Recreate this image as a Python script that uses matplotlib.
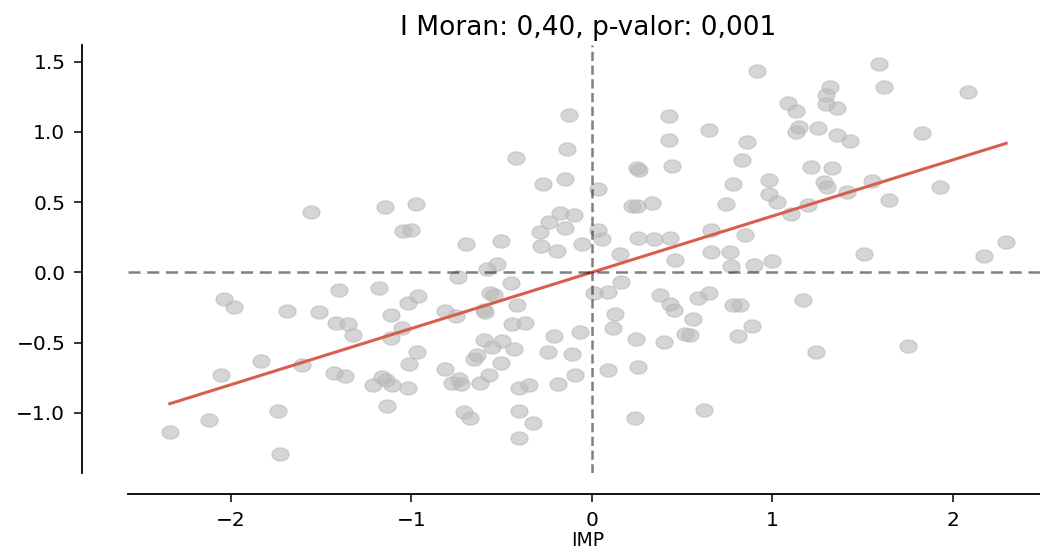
import numpy as np
import matplotlib
matplotlib.use("Agg")
import matplotlib.pyplot as plt
from matplotlib.path import Path

# standardized variable (IMP) and its spatial lag
imp = [-1.558, -0.127, -0.137, -0.419, -0.270, -0.146, -1.143, -0.973, -1.045, -1.001,
       -0.694, -0.502, -0.238, -0.176, -0.100, -0.146, -0.288, -0.279, -0.194, -0.054,
       -0.525, 0.035, 0.035, 0.057, 0.916, 0.427, 0.427, 0.652, 0.860, 0.833,
       0.445, 0.251, 0.260, 1.088, 1.132, 1.151, 1.132, 1.254, 1.322, 1.298,
       1.298, 1.359, 1.217, 1.331, 1.359, 1.433, 0.981, 0.783, 0.981, 1.027,
       1.285, 1.304, 1.199, 1.102, 0.746, 0.223, 0.251, 0.334, 0.257, 0.345,
       0.436, 0.663, 0.851, 0.155, 0.464, 0.663, 0.765, 0.774, 0.898, 0.999,
       1.594, 1.622, 2.083, 1.828, 1.553, 1.414, 1.649, 1.932, 2.297, 2.176,
       1.511, -1.402, -2.035, -1.983, -1.688, -1.512, -1.417, -1.352, -1.322, -1.830,
       -1.605, -2.057, -1.426, -1.368, -1.213, -1.736, -2.122, -2.338, -1.727, -1.180,
       -1.115, -1.018, -0.964, -1.051, -1.115, -0.968, -1.014, -1.162, -1.140, -1.106,
       -1.019, -1.134, -0.811, -0.750, -0.741, -0.580, -0.447, -0.561, -0.543, -0.598,
       -0.589, -0.412, -0.441, -0.371, -0.598, -0.552, -0.497, -0.432, -0.654, -0.635,
       -0.502, -0.814, -0.774, -0.737, -0.727, -0.617, -0.567, -0.709, -0.672, -0.404,
       -0.349, -0.401, -0.327, -0.401, -0.211, -0.242, -0.109, -0.063, -0.090, -0.187,
       0.011, 0.089, 0.164, 0.381, 0.436, 0.454, 0.587, 0.652, 0.781, 0.824,
       1.169, 0.127, 0.116, 0.245, 0.399, 0.560, 0.519, 0.547, 0.888, 0.812,
       1.245, 0.089, 0.257, 0.238, 0.624, 1.753]
lag_imp = [0.429, 1.120, 0.875, 0.816, 0.626, 0.664, 0.465, 0.484, 0.294, 0.304,
           0.201, 0.221, 0.361, 0.420, 0.408, 0.315, 0.285, 0.185, 0.152, 0.201,
           0.057, 0.590, 0.300, 0.240, 1.433, 1.110, 0.940, 1.016, 0.930, 0.797,
           0.759, 0.740, 0.731, 1.205, 1.148, 1.034, 1.001, 1.025, 1.319, 1.260,
           1.200, 1.169, 0.750, 0.742, 0.980, 0.932, 0.655, 0.626, 0.555, 0.503,
           0.643, 0.607, 0.479, 0.418, 0.489, 0.475, 0.475, 0.493, 0.247, 0.237,
           0.247, 0.299, 0.266, 0.133, 0.090, 0.145, 0.145, 0.043, 0.050, 0.078,
           1.480, 1.319, 1.283, 0.989, 0.648, 0.572, 0.512, 0.607, 0.218, 0.114,
           0.133, -0.123, -0.190, -0.247, -0.275, -0.285, -0.358, -0.368, -0.446, -0.633,
           -0.662, -0.731, -0.716, -0.740, -0.800, -0.987, -1.053, -1.139, -1.290, -0.112,
           -0.301, -0.216, -0.168, -0.394, -0.465, -0.567, -0.655, -0.745, -0.769, -0.800,
           -0.823, -0.949, -0.275, -0.311, -0.033, 0.021, -0.076, -0.147, -0.159, -0.266,
           -0.282, -0.235, -0.370, -0.361, -0.484, -0.532, -0.489, -0.548, -0.614, -0.591,
           -0.643, -0.690, -0.788, -0.757, -0.797, -0.788, -0.728, -0.994, -1.034, -0.821,
           -0.804, -0.987, -1.072, -1.179, -0.453, -0.567, -0.579, -0.425, -0.733, -0.797,
           -0.147, -0.142, -0.069, -0.159, -0.223, -0.266, -0.180, -0.145, -0.235, -0.235,
           -0.199, -0.294, -0.399, -0.474, -0.493, -0.332, -0.436, -0.444, -0.380, -0.456,
           -0.567, -0.693, -0.674, -1.034, -0.977, -0.524]

moran_i = 0.40
p_value = 0.001

x = np.array(imp)
y = np.array(lag_imp)

# the reference image is a bit wider than tall, so the dots are ellipses
t = np.linspace(0, 2 * np.pi, 64)
ellipse = Path(np.column_stack([1.3 * np.cos(t), np.sin(t)]), closed=True)

fig = plt.figure(figsize=(10.4, 5.52), dpi=100)
ax = fig.add_axes([128 / 1040, 79 / 552, 920 / 1040, 428 / 552])

ax.scatter(x, y, s=150, marker=ellipse, c='#bababa', alpha=0.6)

xfit = np.array([x.min(), x.max()])
ax.plot(xfit, moran_i * xfit, color='#d6604d', lw=2.2)

ax.axvline(0, color='k', alpha=0.5, lw=1.8, linestyle=(0, (3.7, 1.8)))
ax.axhline(0, color='k', alpha=0.5, lw=1.8, linestyle=(0, (4.8, 2.7)))

ax.spines['left'].set_position(('axes', -0.05))
ax.spines['bottom'].set_position(('axes', -0.05))
ax.spines['top'].set_color('none')
ax.spines['right'].set_color('none')
for s in ['left', 'bottom']:
    ax.spines[s].set_linewidth(1.3)

ax.tick_params(labelsize=14.5, length=6, width=1.1, pad=6)
ax.set_xlabel('IMP', fontsize=13.5, labelpad=1)
ax.set_title('I Moran: {:.2f}, p-valor: {:.3f}'.format(moran_i, p_value).replace('.', ','),
             fontsize=19, pad=7)

fig.savefig('out.png', dpi=100)
